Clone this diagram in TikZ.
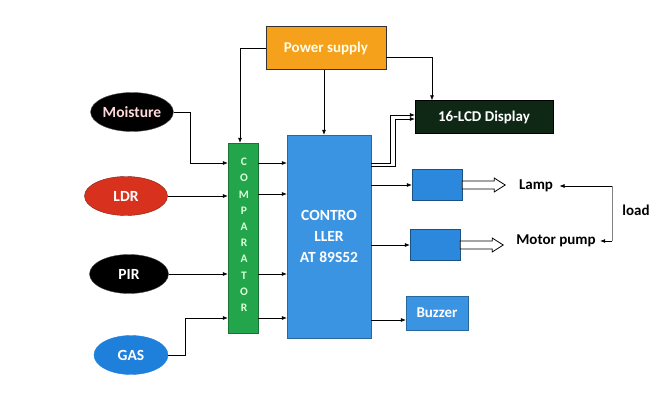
\documentclass[tikz,border=0pt]{standalone}
\usepackage{fontspec}
\setmainfont{Carlito}
\usepackage{tikz}
\usetikzlibrary{arrows.meta,shapes.geometric}
\definecolor{psorange}{HTML}{F6A11C}
\definecolor{lcdgreen}{HTML}{0F2816}
\definecolor{compgreen}{HTML}{23A54B}
\definecolor{ctrlblue}{HTML}{3A94E2}
\definecolor{drvblue}{HTML}{2C88DC}
\definecolor{ldrred}{HTML}{D8321E}
\definecolor{gasblue}{HTML}{1F80DC}
\tikzset{
    sensor/.style={ellipse, draw=black!70, minimum width=#1, minimum height=39pt,
        inner sep=0pt, font=\bfseries\fontsize{15.5}{17}\selectfont, text=white},
    sensor/.default=80pt,
    block/.style={rectangle, draw=black!60, inner sep=0pt, font=\bfseries\fontsize{15}{17}\selectfont,
        text=white},
    outtext/.style={font=\bfseries\fontsize{15}{17}\selectfont},
    sig/.style={-{Latex[length=5pt,width=4pt]}, line width=0.6pt},
    fat/.style={draw=black, fill=white, line width=0.8pt, line join=miter}
}
% hollow output arrow starting at a point
\newcommand{\fatarrow}[1]{%
    \draw[fat] (#1) ++(0,-4) -- ++(32,0) -- ++(0,-3) -- ++(11,7) -- ++(-11,7)
        -- ++(0,-3) -- ++(-32,0) -- cycle;}

\begin{document}
\begin{tikzpicture}[x=1pt, y=-1pt]
    \useasboundingbox[fill=white] (0,0) rectangle (671,398);

    % power and display
    \node[block, fill=psorange, draw=black!80, minimum width=120pt, minimum height=43pt,
        text=white!92!yellow] (pwr) at (326,48) {Power supply};
    \node[block, fill=lcdgreen, draw=black, minimum width=138pt, minimum height=33pt] (lcd) at (484,117) {16-LCD Display};

    % sensors
    \node[sensor=82pt, fill=black, text=white!85!red] (moist) at (132,112) {Moisture};
    \node[sensor=83pt, fill=ldrred, draw=ldrred!60!black] (ldr) at (126,196) {LDR};
    \node[sensor=79pt, fill=black] (pir) at (129,274) {PIR};
    \node[sensor=74pt, fill=gasblue, draw=gasblue] (gas) at (131,355) {GAS};

    % comparator and controller
    \node[block, fill=compgreen, draw=compgreen!70!black, minimum width=30pt, minimum height=190pt] (comp) at (243,238) {};
    \foreach \ch [count=\i from 0] in {C,O,M,P,A,R,A,T,O,R}
        \node[font=\bfseries\fontsize{11.5}{12}\selectfont, text=white!85!green] at (244,162+16.2*\i) {\ch};
    \node[block, fill=ctrlblue, draw=ctrlblue!70!black, minimum width=84pt, minimum height=203pt,
        align=center, font=\bfseries\fontsize{15.5}{21}\selectfont] (ctrl) at (329,236.5) {CONTRO\\LLER\\AT 89S52};

    % drivers and outputs
    \node[block, fill=drvblue, draw=drvblue!60!black, minimum width=50pt, minimum height=31pt] (lampdrv) at (437,185) {};
    \node[block, fill=drvblue, draw=drvblue!60!black, minimum width=50pt, minimum height=31pt] (motdrv) at (435,245) {};
    \node[block, fill=ctrlblue, draw=ctrlblue!70!black, minimum width=62pt, minimum height=34pt] (buzz) at (437,313) {Buzzer};
    \fatarrow{lampdrv.east}
    \fatarrow{motdrv.east}
    \node[outtext] (lamp) at (536,186) {Lamp};
    \node[outtext] (motor) at (556,241) {Motor pump};
    \node[outtext] (load) at (636,210) {load};
    \coordinate (ld1) at (612,186);
    \coordinate (ld2) at (612,241);

    % power lines
    \draw[sig] (pwr.west) -| (comp.north -| 240,0);
    \draw[sig] (pwr.south -| 324,0) -- (ctrl.north -| 324,0);
    \draw[sig] (pwr.east |- 0,57) -| (lcd.north -| 432,0);

    % sensor lines
    \draw[sig] (moist.east) -- (190,112) |- (comp.west |- 0,163);
    \draw[sig] (ldr.east) -- (comp.west |- ldr.east);
    \draw[sig] (pir.east) -- (comp.west |- pir.east);
    \draw[sig] (gas.east) -- (185,355) |- (comp.west |- 0,318);

    % comparator to controller
    \foreach \y in {163,194,274,318}
        \draw[sig] (comp.east |- 0,\y) -- (ctrl.west |- 0,\y);

    % controller to outputs
    \draw[sig] (ctrl.east |- 0,163) -- (390,163) -- (390,115) -- (lcd.west |- 0,115);
    \draw[sig] (ctrl.east |- 0,166) -- (395,166) -- (395,119) -- (lcd.west |- 0,119);
    \draw[sig] (ctrl.east |- lampdrv.west) -- (lampdrv.west);
    \draw[sig] (ctrl.east |- motdrv.west) -- (motdrv.west);
    \draw[sig] (ctrl.east |- 0,320) -- (buzz.west |- 0,320);

    % load
    \draw[black!50, line width=0.5pt] (ld1) -- (ld2);
    \draw[sig] (ld1) -- ([xshift=3pt]lamp.east);
    \draw[sig] (ld2) -- ([xshift=1pt]motor.east);
\end{tikzpicture}
\end{document}
